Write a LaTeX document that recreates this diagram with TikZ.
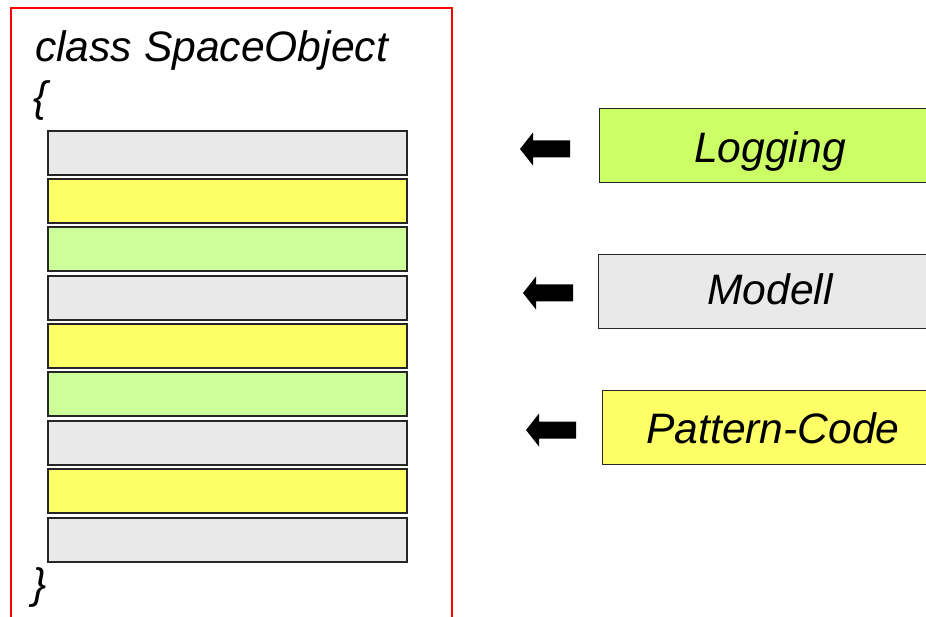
\documentclass[tikz,border=0pt]{standalone}
\usepackage{fontspec}
\setmainfont{Liberation Sans}
\definecolor{slotgray}{HTML}{E9E9E9}
\definecolor{slotyellow}{HTML}{FFFF66}
\definecolor{slotgreen}{HTML}{CCFF99}
\definecolor{loggreen}{HTML}{CCFF66}
\definecolor{framered}{HTML}{FF0000}
\tikzset{
  codetext/.style={font=\fontsize{42.6}{48}\selectfont\itshape, inner sep=0pt},
  slot/.style={draw=black!85, line width=1.6pt, minimum width=359pt, minimum height=44pt, inner sep=0pt, anchor=north west},
  aspectbox/.style={draw=black!85, line width=1.2pt, minimum height=74pt, minimum width=340pt, inner sep=0pt, anchor=north west},
  % block arrow pointing left, tip at the pic origin
  leftarrow/.pic={
    \fill[black] (0,0) -- (13,-16.5) -- (13,-8.5) -- (50,-8.5) -- (50,8.5) -- (13,8.5) -- (13,16.5) -- cycle;
  }
}
\begin{document}
\begin{tikzpicture}[x=1pt, y=-1pt]
  \useasboundingbox (0,0) rectangle (926,617);
  \clip (0,0) rectangle (926,617);
  % class frame, open at the bottom of the page
  \draw[framered, line width=2pt] (11,630) -- (11,8) -- (452,8) -- (452,630);
  \node[codetext, anchor=base west] (title) at (35,62) {class SpaceObject};
  \node[codetext, anchor=base west] (open) at (33,112) {\{};
  % member slots
  \node[slot, fill=slotgray]   (s1) at (47,130) {};
  \node[slot, fill=slotyellow] (s2) at (47,178) {};
  \node[slot, fill=slotgreen]  (s3) at (47,226) {};
  \node[slot, fill=slotgray]   (s4) at (47,275) {};
  \node[slot, fill=slotyellow] (s5) at (47,323) {};
  \node[slot, fill=slotgreen]  (s6) at (47,371) {};
  \node[slot, fill=slotgray]   (s7) at (47,420) {};
  \node[slot, fill=slotyellow] (s8) at (47,468) {};
  \node[slot, fill=slotgray]   (s9) at (47,517) {};
  \node[codetext, anchor=base west] (close) at (32,598) {\}};
  % aspect boxes
  \node[aspectbox, fill=loggreen]   (logging) at (599,108) {};
  \node[codetext, anchor=base] (logtext) at (770,163) {Logging};
  \node[aspectbox, fill=slotgray]   (modell) at (598,254) {};
  \node[codetext, anchor=base] (modtext) at (770,305) {Modell};
  \node[aspectbox, fill=slotyellow] (pattern) at (602,390) {};
  \node[codetext, anchor=base] (pattext) at (773,443) {Pattern-Code};
  % arrows
  \coordinate (a1) at (520,149);
  \coordinate (a2) at (523,293);
  \coordinate (a3) at (526,430);
  \pic at (a1) {leftarrow};
  \pic at (a2) {leftarrow};
  \pic at (a3) {leftarrow};
\end{tikzpicture}
\end{document}
